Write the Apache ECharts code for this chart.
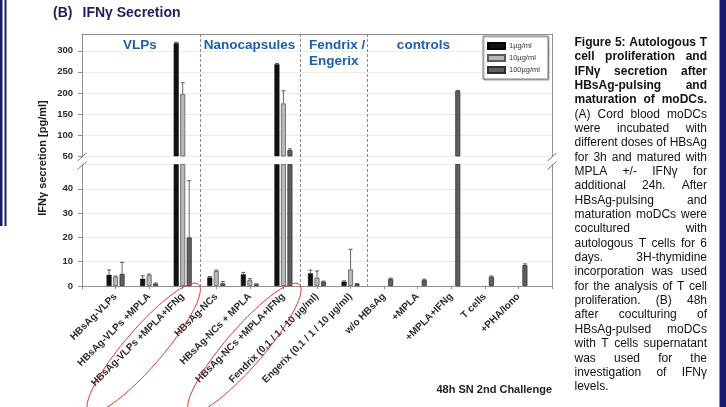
<!DOCTYPE html>
<html>
<head>
<meta charset="utf-8">
<script src="https://cdn.jsdelivr.net/npm/echarts@6/dist/echarts.min.js"></script>
<style>
  html, body { margin: 0; padding: 0; background: #fff; }
  #chart { width: 726px; height: 407px; }
</style>
</head>
<body>
<div id="chart"></div>
<script>
// ---- data -------------------------------------------------------------
// Empty entries at both ends leave a half-step margin inside the frame.
const categories = ['', 'HBsAg-VLPs', 'HBsAg-VLPs +MPLA', 'HBsAg-VLPs +MPLA+IFNg',
  'HBsAg-NCs', 'HBsAg-NCs + MPLA', 'HBsAg-NCs +MPLA+IFNg',
  'Fendrix (0,1 / 1 / 10 µg/ml)', 'Engerix (0,1 / 1 / 10 µg/ml)',
  'w/o HBsAg', '+MPLA', '+MPLA+IFNg', 'T cells', '+PHA/Iono', ''];
const seriesNames = ['1µg/ml', '10µg/ml', '100µg/ml'];

const dose1     = [null, 4.6, 3.0, 318, 3.5, 4.8, 268, 5.2, 1.8, null, null, null, null, null, null];
const dose1Err  = [null, 2.0, 1.2, 2,   0.4, 0.8, 2,   1.3, 0.3, null, null, null, null, null, null];
const dose10    = [null, 3.8, 4.6, 197, 6.2, 2.4, 175, 3.5, 6.8, null, null, null, null, null, null];
const dose10Err = [null, 0.3, 0.3, 27,  0.3, 0.6, 30,  2.7, 8.3, null, null, null, null, null, null];
const dose100   = [null, 5.0, 1.0, 20,   1.1, 0.7, 64, 1.8, 0.8, 2.9, 2.5, 205, 3.8, 8.6, null];
const dose100Err= [null, 4.7, 0.2, 23.3, 0.7, 0.2, 3,  0.2, 0.2, 0.3, 0.3, 1,   0.3, 0.5, null];

// broken y axis: upper and lower segments
const upperMin = 50, upperMax = 340, upperStep = 50;
const lowerMin = 0,  lowerMax = 50,  lowerStep = 10;

const groupHeaders = ['VLPs', 'Nanocapsules', 'Fendrix /', 'Engerix', 'controls'];

const captionLines = [
  'Figure 5: Autologous T', 'cell proliferation and', 'IFNγ secretion after',
  'HBsAg-pulsing and', 'maturation of moDCs.',
  '(A) Cord blood moDCs', 'were incubated with', 'different doses of HBsAg',
  'for 3h and matured with', 'MPLA +/- IFNγ for', 'additional 24h. After',
  'HBsAg-pulsing and', 'maturation moDCs were', 'cocultured with',
  'autologous T cells for 6', 'days. 3H-thymidine', 'incorporation was used',
  'for the analysis of T cell', 'proliferation. (B) 48h', 'after coculturing of',
  'HBsAg-pulsed moDCs', 'with T cells supernatant', 'was used for the',
  'investigation of IFNγ', 'levels.'
];
const boldCaptionLines = 5;

// ---- styling ----------------------------------------------------------
const FONT = '"Liberation Sans", Arial, sans-serif';
const BAR_W = 5, BAR_GAP = 1.5;
const seriesStyles = [
  { color: '#111111', borderColor: '#000', borderWidth: 0.5 },
  { color: '#b8b8b8', borderColor: '#5a5a5a', borderWidth: 0.8 },
  { color: '#5f5f5f', borderColor: '#2e2e2e', borderWidth: 0.8 }
];
const values = [dose1, dose10, dose100];
const errors = [dose1Err, dose10Err, dose100Err];
const AXIS_COLOR = '#8f8f8f';

const chart = echarts.init(document.getElementById('chart'), null, { renderer: 'canvas' });

function errorRenderer(offset) {
  return function (params, api) {
    const idx = api.value(0), v = api.value(1), e = api.value(2);
    const base = api.coord([idx, v]);
    const top = api.coord([idx, v + e]);
    const cx = base[0] + offset;
    return {
      type: 'group',
      children: [
        { type: 'line', shape: { x1: cx, y1: base[1], x2: cx, y2: top[1] }, style: { stroke: '#666', lineWidth: 1 } },
        { type: 'line', shape: { x1: cx - 2, y1: top[1], x2: cx + 2, y2: top[1] }, style: { stroke: '#555', lineWidth: 1 } }
      ]
    };
  };
}

const series = [];
values.forEach((arr, s) => {
  // upper segment
  series.push({
    type: 'bar', name: seriesNames[s], xAxisIndex: 0, yAxisIndex: 0,
    data: arr.map(v => (v != null && v >= upperMin ? v : null)),
    barWidth: BAR_W, barGap: (BAR_GAP / BAR_W * 100) + '%', clip: true,
    itemStyle: seriesStyles[s]
  });
  // lower segment
  series.push({
    type: 'bar', name: seriesNames[s], xAxisIndex: 1, yAxisIndex: 2,
    data: arr, barWidth: BAR_W, barGap: (BAR_GAP / BAR_W * 100) + '%', clip: true,
    itemStyle: seriesStyles[s]
  });
});
values.forEach((arr, s) => {
  const offset = (s - 1) * (BAR_W + BAR_GAP);
  const up = [], low = [];
  arr.forEach((v, i) => {
    if (v == null || errors[s][i] == null) return;
    (v >= upperMin ? up : low).push([i, v, errors[s][i]]);
  });
  series.push({ type: 'custom', xAxisIndex: 0, yAxisIndex: 0, renderItem: errorRenderer(offset),
    data: up, encode: { x: 0, y: 1 }, clip: true, z: 3 });
  series.push({ type: 'custom', xAxisIndex: 1, yAxisIndex: 2, renderItem: errorRenderer(offset),
    data: low, encode: { x: 0, y: 1 }, clip: true, z: 3 });
});

const yLabel = { fontSize: 9.5, fontWeight: 'bold', color: '#2a2a2a', fontFamily: FONT, margin: 9 };
const gridLine = { show: true, lineStyle: { color: '#ececec', width: 1 } };
const frameOnly = {
  axisLine: { show: true, lineStyle: { color: AXIS_COLOR } },
  axisTick: { show: false }, axisLabel: { show: false }, splitLine: { show: false }
};

chart.setOption({
  animation: false,
  textStyle: { fontFamily: FONT },
  grid: [
    { left: 82, right: 174, top: 34, height: 122 },
    { left: 82, right: 174, top: 164.5, height: 121.5 }
  ],
  legend: {
    data: seriesNames, orient: 'vertical', left: 483, top: 36,
    itemWidth: 17, itemHeight: 6, itemGap: 4, icon: 'rect',
    padding: [6, 8, 5, 4],
    borderColor: '#7a7a7a', borderWidth: 1, backgroundColor: '#fff',
    shadowColor: 'rgba(0,0,0,0.35)', shadowBlur: 1, shadowOffsetX: 1, shadowOffsetY: 1,
    textStyle: { fontSize: 7.5, color: '#333', fontFamily: FONT, padding: [0, 0, 0, -1] },
    selectedMode: false
  },
  xAxis: [
    { gridIndex: 0, type: 'category', data: categories, boundaryGap: false, position: 'top',
      ...frameOnly },
    { gridIndex: 1, type: 'category', data: categories, boundaryGap: false,
      axisLine: { show: true, lineStyle: { color: AXIS_COLOR } },
      axisTick: { show: true, length: 3, interval: 0, lineStyle: { color: AXIS_COLOR } },
      axisLabel: { interval: 0, rotate: 45, fontSize: 10, fontWeight: 'bold', color: '#2a2a2a',
        fontFamily: FONT, margin: 9 },
      splitLine: { show: false } }
  ],
  yAxis: [
    { gridIndex: 0, type: 'value', min: upperMin, max: upperMax, interval: upperStep,
      axisLine: { show: true, lineStyle: { color: AXIS_COLOR } },
      axisTick: { show: true, length: 4, lineStyle: { color: AXIS_COLOR } },
      axisLabel: { ...yLabel, showMaxLabel: false }, splitLine: gridLine },
    { gridIndex: 0, type: 'value', position: 'right', min: upperMin, max: upperMax, ...frameOnly },
    { gridIndex: 1, type: 'value', min: lowerMin, max: lowerMax, interval: lowerStep,
      axisLine: { show: true, lineStyle: { color: AXIS_COLOR } },
      axisTick: { show: true, length: 4, lineStyle: { color: AXIS_COLOR } },
      axisLabel: { ...yLabel, showMaxLabel: false }, splitLine: gridLine },
    { gridIndex: 1, type: 'value', position: 'right', min: lowerMin, max: lowerMax, ...frameOnly }
  ],
  series: series
});

// ---- annotations placed from the axes' own pixel mapping ----------------
const catX = categories.map((c, i) => chart.convertToPixel({ xAxisIndex: 1 }, i));
const yTop = chart.convertToPixel({ yAxisIndex: 0 }, upperMax);
const yUpperBottom = chart.convertToPixel({ yAxisIndex: 0 }, upperMin);
const yLowerTop = chart.convertToPixel({ yAxisIndex: 2 }, lowerMax);
const yZero = chart.convertToPixel({ yAxisIndex: 2 }, lowerMin);
const xLeft = catX[0], xRight = catX[catX.length - 1];

const graphics = [];

// group separators between category blocks
[3, 6, 8].forEach(i => {
  const x = Math.round((catX[i] + catX[i + 1]) / 2) + 0.5;
  graphics.push({ type: 'line', shape: { x1: x, y1: yTop, x2: x, y2: yZero },
    style: { stroke: '#8a8a8a', lineWidth: 1, lineDash: [3, 2] }, silent: true });
});

// axis break marks on both sides
[xLeft, xRight].forEach(x => {
  [yUpperBottom + 1, yLowerTop + 1].forEach(y => {
    graphics.push({ type: 'line', shape: { x1: x - 4.5, y1: y + 4, x2: x + 4.5, y2: y - 4 },
      style: { stroke: '#777', lineWidth: 1 }, silent: true });
  });
});

// red ellipses around the IFNg-matured conditions
[3, 6].forEach(i => {
  const cx = catX[i] - 39, cy = yZero + 62;
  const a = 84, b = 19, rot = -0.86;
  const pts = [];
  for (let k = 0; k < 90; k++) {
    const t = k / 90 * Math.PI * 2;
    const ex = a * Math.cos(t), ey = b * Math.sin(t);
    pts.push([cx + ex * Math.cos(rot) - ey * Math.sin(rot), cy + ex * Math.sin(rot) + ey * Math.cos(rot)]);
  }
  graphics.push({ type: 'polygon', shape: { points: pts },
    style: { fill: 'none', stroke: '#e2352c', lineWidth: 1 }, silent: true, z: 10 });
});

// block headers
const headerStyle = { fontSize: 13.5, fontWeight: 'bold', fill: '#1f5ea8', fontFamily: FONT, verticalAlign: 'middle' };
graphics.push({ type: 'text', x: 140, y: 45, style: { ...headerStyle, text: groupHeaders[0], align: 'center' } });
graphics.push({ type: 'text', x: 249.5, y: 45, style: { ...headerStyle, text: groupHeaders[1], align: 'center' } });
graphics.push({ type: 'text', x: 309, y: 45, style: { ...headerStyle, text: groupHeaders[2], align: 'left' } });
graphics.push({ type: 'text', x: 309, y: 61.5, style: { ...headerStyle, text: groupHeaders[3], align: 'left' } });
graphics.push({ type: 'text', x: 423.5, y: 45, style: { ...headerStyle, text: groupHeaders[4], align: 'center' } });

// y axis title
graphics.push({ type: 'text', x: 43, y: 158, rotation: Math.PI / 2,
  style: { text: 'IFNγ secretion [pg/ml]', fontSize: 11, fontWeight: 'bold', fill: '#1a1a1a',
    fontFamily: FONT, align: 'center', verticalAlign: 'middle' } });

// panel title
const titleStyle = { fontSize: 14, fontWeight: 'bold', fill: '#1d1d5e', fontFamily: FONT, verticalAlign: 'middle', align: 'left' };
graphics.push({ type: 'text', x: 53, y: 13.5, style: { ...titleStyle, text: '(B)' } });
graphics.push({ type: 'text', x: 82.5, y: 13.5, style: { ...titleStyle, text: 'IFNγ Secretion' } });

// footer
graphics.push({ type: 'text', x: 552, y: 390,
  style: { text: '48h SN 2nd Challenge', fontSize: 11, fontWeight: 'bold', fill: '#222',
    fontFamily: FONT, align: 'right', verticalAlign: 'middle' } });

// page borders
graphics.push({ type: 'rect', shape: { x: 0, y: 0, width: 2.5, height: 226 }, style: { fill: '#1b1b6b' } });
graphics.push({ type: 'rect', shape: { x: 4.5, y: 0, width: 2, height: 226 }, style: { fill: '#1b1b6b' } });
graphics.push({ type: 'rect', shape: { x: 719.5, y: 0, width: 6.5, height: 407 }, style: { fill: '#1b1b6b' } });

// justified caption column
const COL_X = 574.5, COL_W = 132.5, LINE0 = 42.5, LINE_H = 14.35;
const ctx = document.createElement('canvas').getContext('2d');
captionLines.forEach((line, i) => {
  const bold = i < boldCaptionLines;
  ctx.font = (bold ? 'bold ' : '') + '12px "Liberation Sans", Arial, sans-serif';
  const words = line.split(' ');
  const widths = words.map(w => ctx.measureText(w).width);
  const total = widths.reduce((a, b) => a + b, 0);
  const last = i === captionLines.length - 1;
  const gap = (!last && words.length > 1) ? (COL_W - total) / (words.length - 1) : ctx.measureText(' ').width;
  let x = COL_X;
  const y = LINE0 + i * LINE_H;
  words.forEach((w, k) => {
    graphics.push({ type: 'text', x: x, y: y,
      style: { text: w, fontSize: 12, fontWeight: bold ? 'bold' : 'normal', fill: '#111',
        fontFamily: FONT, align: 'left', verticalAlign: 'middle' } });
    x += widths[k] + gap;
  });
});

chart.setOption({ graphic: graphics });
</script>
</body>
</html>
